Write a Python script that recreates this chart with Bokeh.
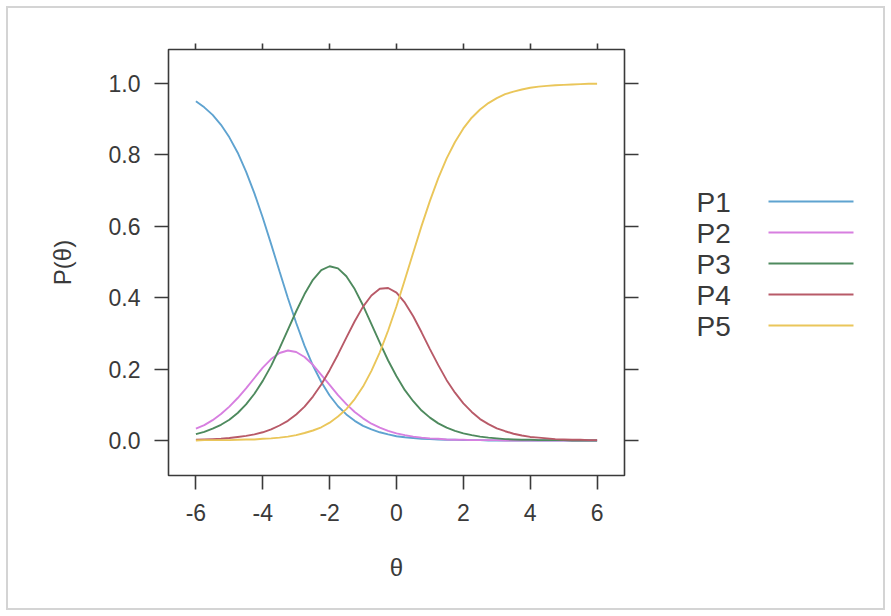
from bokeh.plotting import figure
from bokeh.layouts import row
from bokeh.models import Range1d, LinearAxis, FixedTicker, PrintfTickFormatter, CustomJSTickFormatter
from bokeh.core.properties import value
from bokeh.embed import file_html
from bokeh.resources import INLINE

# ---- data ----
theta = [-6.0, -5.75, -5.5, -5.25, -5.0, -4.75, -4.5, -4.25, -4.0, -3.75,
         -3.5, -3.25, -3.0, -2.75, -2.5, -2.25, -2.0, -1.75, -1.5, -1.25,
         -1.0, -0.75, -0.5, -0.25, 0.0, 0.25, 0.5, 0.75, 1.0, 1.25,
         1.5, 1.75, 2.0, 2.25, 2.5, 2.75, 3.0, 3.25, 3.5, 3.75,
         4.0, 4.25, 4.5, 4.75, 5.0, 5.25, 5.5, 5.75, 6.0]

P1 = [0.950, 0.933, 0.912, 0.884, 0.849, 0.806, 0.753, 0.692, 0.624, 0.550,
      0.474, 0.399, 0.329, 0.265, 0.210, 0.164, 0.126, 0.096, 0.073, 0.055,
      0.041, 0.031, 0.023, 0.017, 0.012, 0.009, 0.007, 0.005, 0.004, 0.003,
      0.002, 0.002, 0.001, 0.001, 0.001, 0.000, 0.000, 0.000, 0.000, 0.000,
      0.000, 0.000, 0.000, 0.000, 0.000, 0.000, 0.000, 0.000, 0.000]

P2 = [0.033, 0.043, 0.057, 0.074, 0.095, 0.119, 0.146, 0.175, 0.204, 0.228,
      0.245, 0.252, 0.248, 0.234, 0.212, 0.184, 0.156, 0.127, 0.102, 0.080,
      0.062, 0.047, 0.036, 0.027, 0.020, 0.015, 0.011, 0.008, 0.006, 0.005,
      0.003, 0.002, 0.002, 0.001, 0.001, 0.001, 0.001, 0.000, 0.000, 0.000,
      0.000, 0.000, 0.000, 0.000, 0.000, 0.000, 0.000, 0.000, 0.000]

P3 = [0.018, 0.024, 0.033, 0.044, 0.058, 0.077, 0.101, 0.131, 0.167, 0.209,
      0.258, 0.310, 0.362, 0.410, 0.450, 0.477, 0.488, 0.482, 0.460, 0.424,
      0.378, 0.326, 0.274, 0.224, 0.180, 0.141, 0.110, 0.084, 0.064, 0.048,
      0.036, 0.027, 0.020, 0.015, 0.011, 0.008, 0.006, 0.004, 0.003, 0.002,
      0.002, 0.001, 0.001, 0.001, 0.001, 0.000, 0.000, 0.000, 0.000]

P4 = [0.002, 0.003, 0.004, 0.005, 0.007, 0.010, 0.013, 0.017, 0.023, 0.031,
      0.042, 0.055, 0.073, 0.095, 0.123, 0.157, 0.197, 0.241, 0.288, 0.334,
      0.375, 0.406, 0.425, 0.427, 0.414, 0.386, 0.348, 0.303, 0.256, 0.211,
      0.169, 0.134, 0.104, 0.080, 0.060, 0.046, 0.034, 0.026, 0.019, 0.014,
      0.010, 0.008, 0.006, 0.004, 0.003, 0.002, 0.002, 0.001, 0.001]

P5 = [0.000, 0.001, 0.001, 0.001, 0.001, 0.002, 0.003, 0.003, 0.005, 0.006,
      0.008, 0.011, 0.015, 0.021, 0.028, 0.037, 0.050, 0.067, 0.088, 0.116,
      0.151, 0.195, 0.247, 0.308, 0.376, 0.450, 0.526, 0.601, 0.671, 0.735,
      0.790, 0.836, 0.874, 0.904, 0.927, 0.945, 0.959, 0.970, 0.977, 0.983,
      0.988, 0.991, 0.993, 0.995, 0.996, 0.997, 0.998, 0.999, 0.999]

series_names = ["P1", "P2", "P3", "P4", "P5"]
series_values = [P1, P2, P3, P4, P5]
series_colors = ["#5fa3d0", "#d77fe0", "#4e8a5e", "#b85a68", "#eac65a"]

x_ticks = [-6, -4, -2, 0, 2, 4, 6]
y_ticks = [0.0, 0.2, 0.4, 0.6, 0.8, 1.0]
x_label = "θ"
y_label = "P(θ)"

FONT = "Liberation Sans"
TXT = "#3a3a3a"
BOX = "#3a3a3a"

# ---- main panel ----
W, H = 891, 616
MAIN_W = 650
L, R, T, B = 168, MAIN_W - 624, 49, 141

p = figure(width=MAIN_W, height=H, output_backend="svg", toolbar_location=None,
           x_range=Range1d(-6.82, 6.82), y_range=Range1d(-0.098, 1.095),
           min_border_left=L, min_border_right=R, min_border_top=T, min_border_bottom=B,
           x_axis_location=None, y_axis_location=None)
p.background_fill_color = "white"
p.border_fill_color = None
p.grid.visible = False
p.outline_line_color = BOX
p.outline_line_width = 1.6


def style_axis(ax, ticks, tick_len, show_labels):
    ax.ticker = FixedTicker(ticks=ticks)
    ax.axis_line_color = None
    ax.major_tick_out = tick_len
    ax.major_tick_in = 0
    ax.major_tick_line_color = BOX
    ax.major_tick_line_width = 1.6
    ax.minor_tick_line_color = None
    ax.major_label_text_font = FONT
    ax.major_label_text_font_size = "23px" if show_labels else "1px"
    ax.major_label_text_color = TXT if show_labels else None
    ax.axis_label_text_font = FONT
    ax.axis_label_text_font_style = "normal"
    ax.axis_label_text_color = TXT
    ax.axis_label_text_font_size = "24px"


xb = LinearAxis(axis_label=x_label, formatter=CustomJSTickFormatter(code="return tick.toString();"))
style_axis(xb, x_ticks, 14, True)
xb.major_label_standoff = 14
xb.axis_label_standoff = 30
p.add_layout(xb, "below")

yl = LinearAxis(axis_label=y_label, formatter=PrintfTickFormatter(format="%.1f"))
style_axis(yl, y_ticks, 14, True)
yl.major_label_standoff = 14
yl.axis_label_standoff = 30
p.add_layout(yl, "left")

xt = LinearAxis()
style_axis(xt, x_ticks, 6, False)
xt.major_label_standoff = 0
p.add_layout(xt, "above")

yr = LinearAxis()
style_axis(yr, y_ticks, 14, False)
yr.major_label_standoff = 0
p.add_layout(yr, "right")

for vals, col in zip(series_values, series_colors):
    p.line(theta, vals, line_color=col, line_width=1.9)

# ---- legend panel: its frame spans the same rows as the main frame,
#      ranges chosen so that data units equal page pixels ----
LEG_W = W - MAIN_W
leg = figure(width=LEG_W, height=H, output_backend="svg", toolbar_location=None,
             x_range=Range1d(MAIN_W, W), y_range=Range1d(H - B, T),
             min_border_left=0, min_border_right=0, min_border_top=T, min_border_bottom=B,
             x_axis_location=None, y_axis_location=None)
leg.grid.visible = False
leg.outline_line_color = None
leg.background_fill_color = None
leg.border_fill_color = None

row_y = [201, 232, 263, 294, 325]
leg.text(x=[696] * 5, y=[ry + 1 for ry in row_y], text=series_names,
         text_font=value(FONT), text_font_size="28px", text_color=TXT,
         text_baseline="middle", text_align="left")
leg.segment(x0=[768] * 5, x1=[853] * 5, y0=row_y, y1=row_y,
            line_color=series_colors, line_width=2.2)

layout = row(p, leg, spacing=0)
layout.styles = {"box-shadow": "inset 0 0 0 6px #ffffff, inset 0 0 0 8px #d4d4d4",
                 "background-color": "#ffffff"}

open("out.html", "w").write(file_html(layout, INLINE))
